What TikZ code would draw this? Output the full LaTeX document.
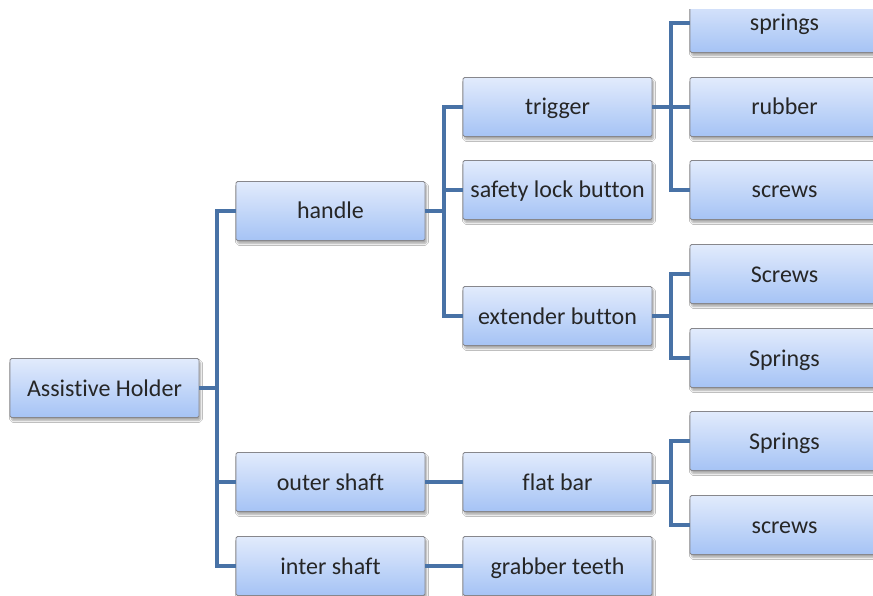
\documentclass[tikz,border=0pt]{standalone}
\usepackage{fontspec}
\setmainfont{Carlito}[Ligatures={NoCommon}]
\usetikzlibrary{shadows.blur}
\definecolor{boxtop}{RGB}{226,235,252}
\definecolor{boxbot}{RGB}{165,195,245}
\definecolor{boxline}{RGB}{135,135,140}
\definecolor{connc}{RGB}{72,114,166}
\tikzset{
  box/.style={draw=boxline, line width=0.9pt, rounded corners=1.5pt,
    top color=boxtop, bottom color=boxbot,
    minimum width=189pt, minimum height=59pt, inner sep=2pt,
    text height=18pt, text depth=2pt,
    font=\fontsize{24}{28}\selectfont, text=black!85,
    blur shadow={shadow xshift=1.5pt, shadow yshift=-3pt, shadow opacity=35, shadow blur steps=6}},
  conn/.style={draw=connc, line width=4pt}
}
\begin{document}
\begin{tikzpicture}[x=1pt,y=-1pt]
\clip (0,0) rectangle (873,596);
\fill[white] (0,0) rectangle (873,596);
% bus positions
\coordinate (b0) at (217,0);
\coordinate (b1) at (444,0);
\coordinate (b2) at (671,0);
% nodes
\node[box] (ah) at (104.5,388) {Assistive Holder};
\node[box] (handle) at (330.5,211) {handle};
\node[box] (outer) at (330.5,482) {outer shaft};
\node[box] (inter) at (330.5,566) {inter shaft};
\node[box] (trigger) at (557.5,107) {trigger};
\node[box] (safety) at (557.5,190) {safety lock button};
\node[box] (extender) at (557.5,316) {extender button};
\node[box] (flat) at (557.5,482) {flat bar};
\node[box] (grabber) at (557.5,566) {grabber teeth};
\node[box] (springs1) at (784.5,23) {springs};
\node[box] (rubber) at (784.5,107) {rubber};
\node[box] (screws1) at (784.5,190) {screws};
\node[box] (screws2) at (784.5,274) {Screws};
\node[box] (springs2) at (784.5,358) {Springs};
\node[box] (springs3) at (784.5,441) {Springs};
\node[box] (screws3) at (784.5,525) {screws};
\fill[white] (675,-10) rectangle (880,9);
% connectors
\draw[conn] (ah.east) -- (ah.east -| b0);
\draw[conn] (handle.west) -- (handle.west -| b0) -- (inter.west -| b0) -- (inter.west);
\draw[conn] (outer.west -| b0) -- (outer.west);
\draw[conn] (handle.east) -- (handle.east -| b1);
\draw[conn] (trigger.west) -- (trigger.west -| b1) -- (extender.west -| b1) -- (extender.west);
\draw[conn] (safety.west -| b1) -- (safety.west);
\draw[conn] (trigger.east) -- (trigger.east -| b2);
\draw[conn] (springs1.west) -- (springs1.west -| b2) -- (screws1.west -| b2) -- (screws1.west);
\draw[conn] (rubber.west -| b2) -- (rubber.west);
\draw[conn] (extender.east) -- (extender.east -| b2);
\draw[conn] (screws2.west) -- (screws2.west -| b2) -- (springs2.west -| b2) -- (springs2.west);
\draw[conn] (outer.east) -- (flat.west);
\draw[conn] (inter.east) -- (grabber.west);
\draw[conn] (flat.east) -- (flat.east -| b2);
\draw[conn] (springs3.west) -- (springs3.west -| b2) -- (screws3.west -| b2) -- (screws3.west);
\end{tikzpicture}
\end{document}
